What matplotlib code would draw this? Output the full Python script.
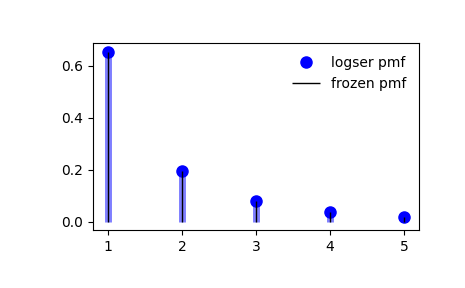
import matplotlib
matplotlib.use('Agg')
import matplotlib.pyplot as plt

# logser pmf, p = 0.6
k = [1, 2, 3, 4, 5]
pmf = [0.6548, 0.1964, 0.0786, 0.0354, 0.0170]
xticks = [1, 2, 3, 4, 5]
yticks = [0.0, 0.2, 0.4, 0.6]

fig = plt.figure(figsize=(4.65, 2.88), dpi=100)
ax = fig.add_axes([0.2, 0.201, 0.701, 0.649])

ax.plot(k, pmf, 'bo', ms=8, label='logser pmf')
ax.vlines(k, 0, pmf, colors='b', lw=5, alpha=0.5)
ax.vlines(k, 0, pmf, colors='k', linestyles='-', lw=1, label='frozen pmf')
ax.set_xticks(xticks)
ax.set_yticks(yticks)
ax.legend(loc='best', frameon=False)

fig.savefig('out.png', dpi=100)
